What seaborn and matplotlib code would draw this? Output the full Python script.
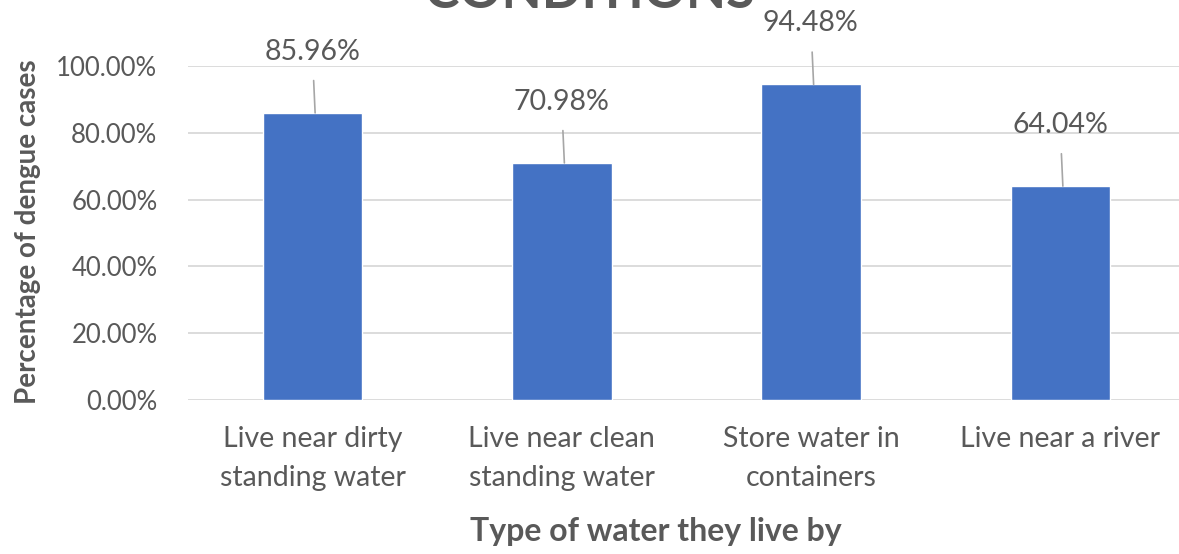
import numpy as np
import pandas as pd
import seaborn as sns
import matplotlib.pyplot as plt
from matplotlib.ticker import PercentFormatter

categories = ["Live near dirty\nstanding water", "Live near clean\nstanding water",
              "Store water in\ncontainers", "Live near a river"]
values = [85.96, 70.98, 94.48, 64.04]
yticks = [0, 20, 40, 60, 80, 100]

df = pd.DataFrame({"category": categories, "pct": np.array(values) / 100})

sns.set_theme(style="white")
plt.rcParams['font.family'] = ['Lato', 'DejaVu Sans']
text_gray = "#595959"

fig = plt.figure(figsize=(11.79, 5.54), dpi=100)
ax = fig.add_axes([188 / 1179, 1 - 400 / 554, 997 / 1179, 334 / 554])

sns.barplot(data=df, x="category", y="pct", color="#4472C4", width=0.4,
            saturation=1, ax=ax, zorder=3)

ax.set_ylim(0, 1.0)
ax.set_xlim(-0.5, 3.5)
ax.set_yticks(np.array(yticks) / 100)
ax.yaxis.set_major_formatter(PercentFormatter(1.0, decimals=2))
ax.grid(axis="y", color="#D9D9D9", linewidth=1.3, zorder=0)
ax.set_axisbelow(True)
for s in ax.spines.values():
    s.set_visible(False)
ax.tick_params(axis="y", length=0, pad=22, labelsize=18.5, labelcolor=text_gray)
ax.tick_params(axis="x", length=0, pad=19, labelsize=20.5, labelcolor=text_gray)
for lbl in ax.get_xticklabels():
    lbl.set_linespacing(1.6)
ax.set_xlabel("")
ax.set_ylabel("")

# data labels with leader lines
for i, v in enumerate(df["pct"]):
    ax.annotate(f"{v * 100:.2f}%", xy=(i + 0.01, v), xytext=(-2, 44),
                textcoords="offset points", ha="center", va="center",
                fontsize=20.5, color=text_gray,
                arrowprops=dict(arrowstyle="-", color="#A6A6A6", lw=1.2,
                                shrinkA=9, shrinkB=0))

fig.text(590 / 1179, 1 - 8 / 554, "CONDITIONS", ha="center", va="baseline",
         fontsize=37.5, fontweight="bold", color=text_gray)
fig.text(656 / 1179, 1 - 531 / 554, "Type of water they live by", ha="center",
         va="center", fontsize=23, fontweight="bold", color=text_gray)
fig.text(28 / 1179, 1 - 232 / 554, "Percentage of dengue cases", ha="center",
         va="center", rotation=90, fontsize=20, fontweight="bold", color=text_gray)

fig.savefig("out.png", dpi=100)
